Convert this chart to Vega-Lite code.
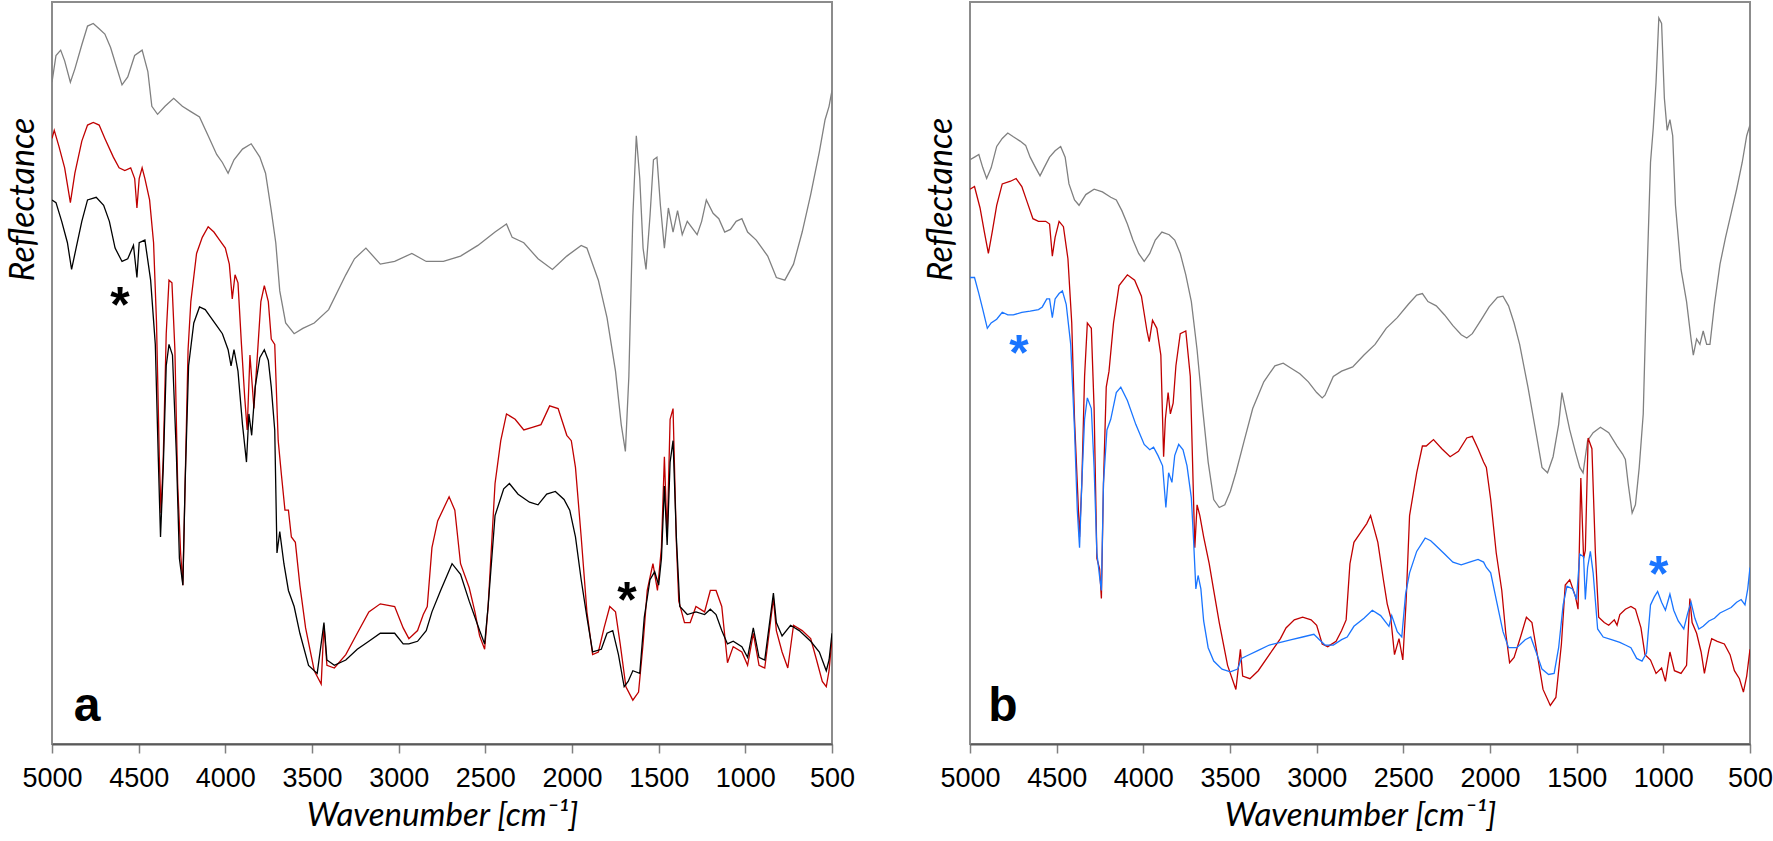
{
"$schema": "https://vega.github.io/schema/vega-lite/v6.json",
"background": "white",
"padding": {"left": 5, "top": 1, "right": 0, "bottom": 0},
"config": {"view": {"stroke": "#8c8c8c", "strokeWidth": 2}},
"bounds": "flush",
"spacing": 138,
"datasets": {
"panelA": [
{"trace":"grey","wn":5000,"refl":123.7},{"trace":"grey","wn":4977,"refl":128.7},{"trace":"grey","wn":4950,"refl":129.7},{"trace":"grey","wn":4927,"refl":127.7},{"trace":"grey","wn":4894,"refl":123.7},{"trace":"grey","wn":4868,"refl":126.2},{"trace":"grey","wn":4828,"refl":130.7},{"trace":"grey","wn":4795,"refl":134.2},{"trace":"grey","wn":4762,"refl":134.7},{"trace":"grey","wn":4728,"refl":133.7},{"trace":"grey","wn":4695,"refl":132.7},{"trace":"grey","wn":4662,"refl":130.2},{"trace":"grey","wn":4629,"refl":126.7},{"trace":"grey","wn":4596,"refl":123.2},{"trace":"grey","wn":4563,"refl":124.7},{"trace":"grey","wn":4523,"refl":128.7},{"trace":"grey","wn":4480,"refl":129.7},{"trace":"grey","wn":4447,"refl":125.7},{"trace":"grey","wn":4424,"refl":119.2},{"trace":"grey","wn":4391,"refl":117.7},{"trace":"grey","wn":4348,"refl":119.2},{"trace":"grey","wn":4298,"refl":120.7},{"trace":"grey","wn":4248,"refl":119.2},{"trace":"grey","wn":4199,"refl":118.2},{"trace":"grey","wn":4149,"refl":117.2},{"trace":"grey","wn":4099,"refl":113.7},{"trace":"grey","wn":4050,"refl":110.2},{"trace":"grey","wn":4017,"refl":108.7},{"trace":"grey","wn":3984,"refl":106.7},{"trace":"grey","wn":3950,"refl":109.2},{"trace":"grey","wn":3901,"refl":111.2},{"trace":"grey","wn":3851,"refl":112.2},{"trace":"grey","wn":3801,"refl":109.7},{"trace":"grey","wn":3768,"refl":106.7},{"trace":"grey","wn":3735,"refl":99.7},{"trace":"grey","wn":3709,"refl":93.7},{"trace":"grey","wn":3686,"refl":84.7},{"trace":"grey","wn":3652,"refl":78.7},{"trace":"grey","wn":3603,"refl":76.7},{"trace":"grey","wn":3553,"refl":77.7},{"trace":"grey","wn":3487,"refl":78.7},{"trace":"grey","wn":3404,"refl":81.2},{"trace":"grey","wn":3305,"refl":87.7},{"trace":"grey","wn":3255,"refl":90.7},{"trace":"grey","wn":3189,"refl":92.7},{"trace":"grey","wn":3106,"refl":89.7},{"trace":"grey","wn":3023,"refl":90.2},{"trace":"grey","wn":2924,"refl":91.7},{"trace":"grey","wn":2841,"refl":90.2},{"trace":"grey","wn":2742,"refl":90.2},{"trace":"grey","wn":2643,"refl":91.2},{"trace":"grey","wn":2543,"refl":93.2},{"trace":"grey","wn":2444,"refl":95.7},{"trace":"grey","wn":2378,"refl":97.2},{"trace":"grey","wn":2345,"refl":94.7},{"trace":"grey","wn":2278,"refl":93.7},{"trace":"grey","wn":2196,"refl":90.7},{"trace":"grey","wn":2113,"refl":88.7},{"trace":"grey","wn":2030,"refl":91.2},{"trace":"grey","wn":1947,"refl":93.2},{"trace":"grey","wn":1914,"refl":92.7},{"trace":"grey","wn":1848,"refl":86.7},{"trace":"grey","wn":1798,"refl":79.7},{"trace":"grey","wn":1749,"refl":69.7},{"trace":"grey","wn":1716,"refl":59.7},{"trace":"grey","wn":1692,"refl":54.7},{"trace":"grey","wn":1672,"refl":68.7},{"trace":"grey","wn":1649,"refl":98.7},{"trace":"grey","wn":1629,"refl":113.7},{"trace":"grey","wn":1609,"refl":105.7},{"trace":"grey","wn":1590,"refl":92.7},{"trace":"grey","wn":1573,"refl":88.7},{"trace":"grey","wn":1550,"refl":98.7},{"trace":"grey","wn":1530,"refl":109.2},{"trace":"grey","wn":1510,"refl":109.7},{"trace":"grey","wn":1490,"refl":100.7},{"trace":"grey","wn":1467,"refl":92.7},{"trace":"grey","wn":1444,"refl":100.2},{"trace":"grey","wn":1417,"refl":95.7},{"trace":"grey","wn":1391,"refl":99.7},{"trace":"grey","wn":1364,"refl":95.2},{"trace":"grey","wn":1335,"refl":97.7},{"trace":"grey","wn":1278,"refl":95.2},{"trace":"grey","wn":1252,"refl":97.7},{"trace":"grey","wn":1225,"refl":101.7},{"trace":"grey","wn":1186,"refl":99.2},{"trace":"grey","wn":1153,"refl":98.2},{"trace":"grey","wn":1119,"refl":95.7},{"trace":"grey","wn":1086,"refl":96.2},{"trace":"grey","wn":1053,"refl":97.7},{"trace":"grey","wn":1020,"refl":98.2},{"trace":"grey","wn":987,"refl":95.7},{"trace":"grey","wn":937,"refl":94.2},{"trace":"grey","wn":871,"refl":91.2},{"trace":"grey","wn":821,"refl":87.2},{"trace":"grey","wn":772,"refl":86.7},{"trace":"grey","wn":722,"refl":89.7},{"trace":"grey","wn":672,"refl":95.7},{"trace":"grey","wn":623,"refl":102.7},{"trace":"grey","wn":573,"refl":110.7},{"trace":"grey","wn":540,"refl":116.7},{"trace":"grey","wn":517,"refl":119.2},{"trace":"grey","wn":500,"refl":122.2},
{"trace":"red","wn":5000,"refl":113.2},{"trace":"red","wn":4987,"refl":114.7},{"trace":"red","wn":4960,"refl":111.7},{"trace":"red","wn":4927,"refl":107.7},{"trace":"red","wn":4894,"refl":101.2},{"trace":"red","wn":4868,"refl":106.7},{"trace":"red","wn":4828,"refl":112.7},{"trace":"red","wn":4795,"refl":115.7},{"trace":"red","wn":4762,"refl":116.2},{"trace":"red","wn":4728,"refl":115.7},{"trace":"red","wn":4695,"refl":113.2},{"trace":"red","wn":4646,"refl":109.7},{"trace":"red","wn":4613,"refl":107.7},{"trace":"red","wn":4580,"refl":107.2},{"trace":"red","wn":4546,"refl":107.7},{"trace":"red","wn":4523,"refl":105.7},{"trace":"red","wn":4510,"refl":100.2},{"trace":"red","wn":4497,"refl":105.7},{"trace":"red","wn":4480,"refl":107.7},{"trace":"red","wn":4464,"refl":105.7},{"trace":"red","wn":4437,"refl":101.7},{"trace":"red","wn":4414,"refl":93.7},{"trace":"red","wn":4397,"refl":78.7},{"trace":"red","wn":4381,"refl":53.7},{"trace":"red","wn":4371,"refl":43.2},{"trace":"red","wn":4358,"refl":53.7},{"trace":"red","wn":4341,"refl":76.7},{"trace":"red","wn":4325,"refl":86.7},{"trace":"red","wn":4308,"refl":86.2},{"trace":"red","wn":4291,"refl":73.7},{"trace":"red","wn":4275,"refl":48.7},{"trace":"red","wn":4258,"refl":35.7},{"trace":"red","wn":4245,"refl":29.7},{"trace":"red","wn":4232,"refl":48.7},{"trace":"red","wn":4215,"refl":73.7},{"trace":"red","wn":4199,"refl":82.7},{"trace":"red","wn":4166,"refl":91.7},{"trace":"red","wn":4133,"refl":94.7},{"trace":"red","wn":4099,"refl":96.7},{"trace":"red","wn":4066,"refl":95.7},{"trace":"red","wn":4033,"refl":94.2},{"trace":"red","wn":4000,"refl":92.7},{"trace":"red","wn":3977,"refl":89.7},{"trace":"red","wn":3960,"refl":83.2},{"trace":"red","wn":3944,"refl":87.7},{"trace":"red","wn":3927,"refl":86.2},{"trace":"red","wn":3907,"refl":74.7},{"trace":"red","wn":3888,"refl":64.7},{"trace":"red","wn":3874,"refl":58.7},{"trace":"red","wn":3858,"refl":72.7},{"trace":"red","wn":3844,"refl":66.7},{"trace":"red","wn":3835,"refl":62.7},{"trace":"red","wn":3811,"refl":74.7},{"trace":"red","wn":3795,"refl":82.7},{"trace":"red","wn":3775,"refl":85.7},{"trace":"red","wn":3752,"refl":82.7},{"trace":"red","wn":3735,"refl":75.7},{"trace":"red","wn":3715,"refl":74.7},{"trace":"red","wn":3695,"refl":56.7},{"trace":"red","wn":3676,"refl":50.2},{"trace":"red","wn":3656,"refl":43.7},{"trace":"red","wn":3636,"refl":43.7},{"trace":"red","wn":3619,"refl":38.7},{"trace":"red","wn":3596,"refl":37.7},{"trace":"red","wn":3570,"refl":29.7},{"trace":"red","wn":3537,"refl":21.7},{"trace":"red","wn":3487,"refl":13.7},{"trace":"red","wn":3447,"refl":11.2},{"trace":"red","wn":3431,"refl":22.2},{"trace":"red","wn":3414,"refl":14.7},{"trace":"red","wn":3371,"refl":14.2},{"trace":"red","wn":3305,"refl":16.7},{"trace":"red","wn":3239,"refl":20.7},{"trace":"red","wn":3172,"refl":24.7},{"trace":"red","wn":3106,"refl":26.2},{"trace":"red","wn":3023,"refl":25.7},{"trace":"red","wn":2974,"refl":21.7},{"trace":"red","wn":2941,"refl":19.7},{"trace":"red","wn":2891,"refl":21.2},{"trace":"red","wn":2858,"refl":24.2},{"trace":"red","wn":2835,"refl":25.7},{"trace":"red","wn":2808,"refl":36.7},{"trace":"red","wn":2775,"refl":41.7},{"trace":"red","wn":2709,"refl":46.2},{"trace":"red","wn":2676,"refl":43.7},{"trace":"red","wn":2643,"refl":33.7},{"trace":"red","wn":2593,"refl":29.2},{"trace":"red","wn":2560,"refl":24.7},{"trace":"red","wn":2533,"refl":20.2},{"trace":"red","wn":2504,"refl":17.7},{"trace":"red","wn":2484,"refl":25.7},{"trace":"red","wn":2444,"refl":48.7},{"trace":"red","wn":2411,"refl":56.7},{"trace":"red","wn":2378,"refl":61.7},{"trace":"red","wn":2328,"refl":60.7},{"trace":"red","wn":2278,"refl":58.7},{"trace":"red","wn":2229,"refl":59.2},{"trace":"red","wn":2179,"refl":59.7},{"trace":"red","wn":2129,"refl":63.2},{"trace":"red","wn":2080,"refl":62.7},{"trace":"red","wn":2030,"refl":57.7},{"trace":"red","wn":2004,"refl":56.7},{"trace":"red","wn":1980,"refl":51.7},{"trace":"red","wn":1947,"refl":38.7},{"trace":"red","wn":1914,"refl":24.7},{"trace":"red","wn":1881,"refl":16.7},{"trace":"red","wn":1848,"refl":17.2},{"trace":"red","wn":1815,"refl":21.7},{"trace":"red","wn":1782,"refl":25.7},{"trace":"red","wn":1749,"refl":24.7},{"trace":"red","wn":1722,"refl":18.7},{"trace":"red","wn":1689,"refl":10.7},{"trace":"red","wn":1649,"refl":8.2},{"trace":"red","wn":1616,"refl":9.7},{"trace":"red","wn":1590,"refl":18.7},{"trace":"red","wn":1566,"refl":28.7},{"trace":"red","wn":1533,"refl":33.7},{"trace":"red","wn":1507,"refl":28.7},{"trace":"red","wn":1484,"refl":36.7},{"trace":"red","wn":1467,"refl":53.7},{"trace":"red","wn":1451,"refl":38.7},{"trace":"red","wn":1434,"refl":60.7},{"trace":"red","wn":1417,"refl":62.7},{"trace":"red","wn":1398,"refl":37.7},{"trace":"red","wn":1384,"refl":26.7},{"trace":"red","wn":1351,"refl":22.7},{"trace":"red","wn":1318,"refl":22.7},{"trace":"red","wn":1285,"refl":25.7},{"trace":"red","wn":1235,"refl":24.7},{"trace":"red","wn":1202,"refl":28.7},{"trace":"red","wn":1169,"refl":28.7},{"trace":"red","wn":1136,"refl":25.7},{"trace":"red","wn":1103,"refl":15.2},{"trace":"red","wn":1070,"refl":18.2},{"trace":"red","wn":1020,"refl":17.2},{"trace":"red","wn":987,"refl":14.7},{"trace":"red","wn":954,"refl":20.7},{"trace":"red","wn":921,"refl":14.7},{"trace":"red","wn":888,"refl":14.2},{"trace":"red","wn":838,"refl":27.2},{"trace":"red","wn":821,"refl":21.2},{"trace":"red","wn":788,"refl":17.2},{"trace":"red","wn":755,"refl":14.2},{"trace":"red","wn":722,"refl":22.2},{"trace":"red","wn":672,"refl":21.2},{"trace":"red","wn":623,"refl":19.7},{"trace":"red","wn":589,"refl":15.7},{"trace":"red","wn":556,"refl":11.7},{"trace":"red","wn":533,"refl":10.7},{"trace":"red","wn":517,"refl":13.7},{"trace":"red","wn":500,"refl":19.7},
{"trace":"black","wn":5000,"refl":101.7},{"trace":"black","wn":4977,"refl":101.2},{"trace":"black","wn":4944,"refl":97.7},{"trace":"black","wn":4911,"refl":93.7},{"trace":"black","wn":4887,"refl":88.7},{"trace":"black","wn":4861,"refl":92.7},{"trace":"black","wn":4828,"refl":97.7},{"trace":"black","wn":4795,"refl":101.7},{"trace":"black","wn":4745,"refl":102.2},{"trace":"black","wn":4702,"refl":100.7},{"trace":"black","wn":4669,"refl":97.7},{"trace":"black","wn":4636,"refl":92.7},{"trace":"black","wn":4596,"refl":90.2},{"trace":"black","wn":4563,"refl":90.7},{"trace":"black","wn":4530,"refl":93.2},{"trace":"black","wn":4510,"refl":87.2},{"trace":"black","wn":4497,"refl":93.7},{"trace":"black","wn":4464,"refl":94.2},{"trace":"black","wn":4431,"refl":86.7},{"trace":"black","wn":4404,"refl":74.7},{"trace":"black","wn":4387,"refl":53.7},{"trace":"black","wn":4374,"refl":38.7},{"trace":"black","wn":4358,"refl":51.7},{"trace":"black","wn":4341,"refl":70.7},{"trace":"black","wn":4325,"refl":74.7},{"trace":"black","wn":4305,"refl":72.7},{"trace":"black","wn":4282,"refl":53.7},{"trace":"black","wn":4265,"refl":34.7},{"trace":"black","wn":4245,"refl":29.7},{"trace":"black","wn":4232,"refl":48.7},{"trace":"black","wn":4212,"refl":70.7},{"trace":"black","wn":4182,"refl":78.7},{"trace":"black","wn":4149,"refl":81.7},{"trace":"black","wn":4116,"refl":81.2},{"trace":"black","wn":4083,"refl":79.7},{"trace":"black","wn":4050,"refl":78.2},{"trace":"black","wn":4017,"refl":76.7},{"trace":"black","wn":3984,"refl":73.7},{"trace":"black","wn":3967,"refl":70.7},{"trace":"black","wn":3950,"refl":73.7},{"trace":"black","wn":3927,"refl":69.7},{"trace":"black","wn":3901,"refl":59.7},{"trace":"black","wn":3878,"refl":52.7},{"trace":"black","wn":3864,"refl":61.7},{"trace":"black","wn":3848,"refl":57.7},{"trace":"black","wn":3828,"refl":66.7},{"trace":"black","wn":3801,"refl":72.2},{"trace":"black","wn":3775,"refl":73.7},{"trace":"black","wn":3752,"refl":71.7},{"trace":"black","wn":3735,"refl":66.7},{"trace":"black","wn":3715,"refl":58.7},{"trace":"black","wn":3702,"refl":35.7},{"trace":"black","wn":3686,"refl":39.7},{"trace":"black","wn":3662,"refl":33.7},{"trace":"black","wn":3636,"refl":28.7},{"trace":"black","wn":3603,"refl":25.7},{"trace":"black","wn":3570,"refl":20.7},{"trace":"black","wn":3520,"refl":14.7},{"trace":"black","wn":3470,"refl":13.2},{"trace":"black","wn":3431,"refl":22.7},{"trace":"black","wn":3414,"refl":15.7},{"trace":"black","wn":3371,"refl":14.7},{"trace":"black","wn":3305,"refl":15.7},{"trace":"black","wn":3239,"refl":17.7},{"trace":"black","wn":3172,"refl":19.2},{"trace":"black","wn":3106,"refl":20.7},{"trace":"black","wn":3023,"refl":20.7},{"trace":"black","wn":2974,"refl":18.7},{"trace":"black","wn":2941,"refl":18.7},{"trace":"black","wn":2891,"refl":19.2},{"trace":"black","wn":2841,"refl":21.2},{"trace":"black","wn":2808,"refl":24.7},{"trace":"black","wn":2758,"refl":28.7},{"trace":"black","wn":2692,"refl":33.7},{"trace":"black","wn":2643,"refl":31.7},{"trace":"black","wn":2593,"refl":26.7},{"trace":"black","wn":2560,"refl":23.7},{"trace":"black","wn":2533,"refl":21.2},{"trace":"black","wn":2504,"refl":18.7},{"trace":"black","wn":2484,"refl":25.7},{"trace":"black","wn":2444,"refl":42.7},{"trace":"black","wn":2394,"refl":47.7},{"trace":"black","wn":2361,"refl":48.7},{"trace":"black","wn":2311,"refl":46.7},{"trace":"black","wn":2245,"refl":45.2},{"trace":"black","wn":2196,"refl":44.7},{"trace":"black","wn":2146,"refl":46.7},{"trace":"black","wn":2096,"refl":47.2},{"trace":"black","wn":2046,"refl":45.7},{"trace":"black","wn":2013,"refl":43.7},{"trace":"black","wn":1980,"refl":38.7},{"trace":"black","wn":1947,"refl":30.7},{"trace":"black","wn":1914,"refl":23.7},{"trace":"black","wn":1881,"refl":17.2},{"trace":"black","wn":1831,"refl":17.7},{"trace":"black","wn":1798,"refl":20.7},{"trace":"black","wn":1765,"refl":21.2},{"trace":"black","wn":1732,"refl":16.7},{"trace":"black","wn":1699,"refl":10.7},{"trace":"black","wn":1676,"refl":11.7},{"trace":"black","wn":1649,"refl":13.7},{"trace":"black","wn":1609,"refl":13.2},{"trace":"black","wn":1583,"refl":23.7},{"trace":"black","wn":1550,"refl":30.7},{"trace":"black","wn":1523,"refl":32.2},{"trace":"black","wn":1500,"refl":29.7},{"trace":"black","wn":1484,"refl":34.7},{"trace":"black","wn":1467,"refl":48.2},{"trace":"black","wn":1451,"refl":37.2},{"trace":"black","wn":1434,"refl":52.7},{"trace":"black","wn":1417,"refl":56.7},{"trace":"black","wn":1398,"refl":38.7},{"trace":"black","wn":1378,"refl":25.7},{"trace":"black","wn":1335,"refl":24.2},{"trace":"black","wn":1285,"refl":24.7},{"trace":"black","wn":1235,"refl":24.2},{"trace":"black","wn":1202,"refl":25.2},{"trace":"black","wn":1169,"refl":24.2},{"trace":"black","wn":1136,"refl":21.2},{"trace":"black","wn":1103,"refl":18.7},{"trace":"black","wn":1070,"refl":19.2},{"trace":"black","wn":1020,"refl":18.2},{"trace":"black","wn":987,"refl":16.2},{"trace":"black","wn":954,"refl":21.7},{"trace":"black","wn":921,"refl":16.2},{"trace":"black","wn":888,"refl":15.7},{"trace":"black","wn":838,"refl":28.2},{"trace":"black","wn":821,"refl":22.7},{"trace":"black","wn":788,"refl":20.2},{"trace":"black","wn":739,"refl":22.2},{"trace":"black","wn":689,"refl":21.2},{"trace":"black","wn":623,"refl":19.2},{"trace":"black","wn":573,"refl":17.2},{"trace":"black","wn":533,"refl":13.7},{"trace":"black","wn":517,"refl":15.7},{"trace":"black","wn":500,"refl":20.7}
],
"panelB": [
{"trace":"grey","wn":5000,"refl":109.2},{"trace":"grey","wn":4974,"refl":109.7},{"trace":"grey","wn":4949,"refl":110.2},{"trace":"grey","wn":4926,"refl":107.7},{"trace":"grey","wn":4904,"refl":105.7},{"trace":"grey","wn":4878,"refl":107.7},{"trace":"grey","wn":4846,"refl":111.7},{"trace":"grey","wn":4814,"refl":113.2},{"trace":"grey","wn":4782,"refl":114.2},{"trace":"grey","wn":4750,"refl":113.5},{"trace":"grey","wn":4711,"refl":112.7},{"trace":"grey","wn":4679,"refl":111.9},{"trace":"grey","wn":4653,"refl":109.7},{"trace":"grey","wn":4621,"refl":107.7},{"trace":"grey","wn":4596,"refl":106.2},{"trace":"grey","wn":4573,"refl":107.7},{"trace":"grey","wn":4541,"refl":109.7},{"trace":"grey","wn":4509,"refl":110.9},{"trace":"grey","wn":4477,"refl":111.7},{"trace":"grey","wn":4451,"refl":109.7},{"trace":"grey","wn":4429,"refl":104.7},{"trace":"grey","wn":4397,"refl":101.7},{"trace":"grey","wn":4371,"refl":100.7},{"trace":"grey","wn":4332,"refl":102.7},{"trace":"grey","wn":4284,"refl":103.7},{"trace":"grey","wn":4236,"refl":103.2},{"trace":"grey","wn":4188,"refl":102.2},{"trace":"grey","wn":4156,"refl":101.7},{"trace":"grey","wn":4124,"refl":99.7},{"trace":"grey","wn":4092,"refl":97.2},{"trace":"grey","wn":4060,"refl":94.2},{"trace":"grey","wn":4027,"refl":91.7},{"trace":"grey","wn":3995,"refl":90.2},{"trace":"grey","wn":3963,"refl":91.7},{"trace":"grey","wn":3931,"refl":94.2},{"trace":"grey","wn":3893,"refl":95.7},{"trace":"grey","wn":3851,"refl":95.2},{"trace":"grey","wn":3819,"refl":94.2},{"trace":"grey","wn":3787,"refl":91.7},{"trace":"grey","wn":3755,"refl":87.7},{"trace":"grey","wn":3723,"refl":82.7},{"trace":"grey","wn":3690,"refl":73.7},{"trace":"grey","wn":3658,"refl":62.7},{"trace":"grey","wn":3626,"refl":52.7},{"trace":"grey","wn":3594,"refl":45.7},{"trace":"grey","wn":3562,"refl":44.2},{"trace":"grey","wn":3530,"refl":44.7},{"trace":"grey","wn":3498,"refl":47.2},{"trace":"grey","wn":3466,"refl":50.7},{"trace":"grey","wn":3418,"refl":56.7},{"trace":"grey","wn":3369,"refl":62.7},{"trace":"grey","wn":3305,"refl":67.7},{"trace":"grey","wn":3241,"refl":70.7},{"trace":"grey","wn":3193,"refl":71.2},{"trace":"grey","wn":3145,"refl":70.2},{"trace":"grey","wn":3097,"refl":69.2},{"trace":"grey","wn":3048,"refl":67.7},{"trace":"grey","wn":3000,"refl":65.7},{"trace":"grey","wn":2968,"refl":64.7},{"trace":"grey","wn":2952,"refl":65.2},{"trace":"grey","wn":2904,"refl":68.7},{"trace":"grey","wn":2856,"refl":69.7},{"trace":"grey","wn":2792,"refl":70.5},{"trace":"grey","wn":2727,"refl":72.7},{"trace":"grey","wn":2663,"refl":74.7},{"trace":"grey","wn":2599,"refl":77.7},{"trace":"grey","wn":2535,"refl":79.7},{"trace":"grey","wn":2471,"refl":82.2},{"trace":"grey","wn":2423,"refl":83.9},{"trace":"grey","wn":2390,"refl":84.2},{"trace":"grey","wn":2358,"refl":82.7},{"trace":"grey","wn":2310,"refl":81.9},{"trace":"grey","wn":2262,"refl":80.2},{"trace":"grey","wn":2214,"refl":78.2},{"trace":"grey","wn":2166,"refl":76.5},{"trace":"grey","wn":2134,"refl":75.9},{"trace":"grey","wn":2102,"refl":76.7},{"trace":"grey","wn":2053,"refl":79.2},{"trace":"grey","wn":2005,"refl":81.7},{"trace":"grey","wn":1957,"refl":83.5},{"trace":"grey","wn":1925,"refl":83.7},{"trace":"grey","wn":1893,"refl":81.9},{"trace":"grey","wn":1861,"refl":78.7},{"trace":"grey","wn":1829,"refl":74.7},{"trace":"grey","wn":1781,"refl":66.7},{"trace":"grey","wn":1732,"refl":57.7},{"trace":"grey","wn":1700,"refl":51.7},{"trace":"grey","wn":1668,"refl":50.7},{"trace":"grey","wn":1636,"refl":53.7},{"trace":"grey","wn":1604,"refl":59.7},{"trace":"grey","wn":1585,"refl":65.7},{"trace":"grey","wn":1566,"refl":62.7},{"trace":"grey","wn":1540,"refl":58.7},{"trace":"grey","wn":1508,"refl":54.7},{"trace":"grey","wn":1482,"refl":51.7},{"trace":"grey","wn":1463,"refl":50.7},{"trace":"grey","wn":1437,"refl":56.7},{"trace":"grey","wn":1405,"refl":58.2},{"trace":"grey","wn":1363,"refl":59.2},{"trace":"grey","wn":1315,"refl":58.2},{"trace":"grey","wn":1267,"refl":55.7},{"trace":"grey","wn":1235,"refl":54.2},{"trace":"grey","wn":1219,"refl":53.2},{"trace":"grey","wn":1203,"refl":48.7},{"trace":"grey","wn":1180,"refl":43.2},{"trace":"grey","wn":1161,"refl":44.7},{"trace":"grey","wn":1139,"refl":51.7},{"trace":"grey","wn":1116,"refl":61.7},{"trace":"grey","wn":1097,"refl":84.7},{"trace":"grey","wn":1074,"refl":108.7},{"trace":"grey","wn":1058,"refl":115.2},{"trace":"grey","wn":1042,"refl":123.7},{"trace":"grey","wn":1026,"refl":135.7},{"trace":"grey","wn":1010,"refl":134.7},{"trace":"grey","wn":994,"refl":120.7},{"trace":"grey","wn":978,"refl":114.7},{"trace":"grey","wn":962,"refl":116.7},{"trace":"grey","wn":946,"refl":113.7},{"trace":"grey","wn":930,"refl":100.7},{"trace":"grey","wn":898,"refl":88.7},{"trace":"grey","wn":866,"refl":82.7},{"trace":"grey","wn":840,"refl":75.7},{"trace":"grey","wn":827,"refl":72.7},{"trace":"grey","wn":808,"refl":75.7},{"trace":"grey","wn":789,"refl":74.7},{"trace":"grey","wn":770,"refl":77.2},{"trace":"grey","wn":750,"refl":74.7},{"trace":"grey","wn":731,"refl":74.7},{"trace":"grey","wn":705,"refl":82.2},{"trace":"grey","wn":673,"refl":89.7},{"trace":"grey","wn":641,"refl":94.7},{"trace":"grey","wn":609,"refl":99.2},{"trace":"grey","wn":577,"refl":103.7},{"trace":"grey","wn":545,"refl":108.7},{"trace":"grey","wn":519,"refl":113.7},{"trace":"grey","wn":500,"refl":115.7},
{"trace":"red","wn":5000,"refl":103.7},{"trace":"red","wn":4974,"refl":104.2},{"trace":"red","wn":4942,"refl":100.2},{"trace":"red","wn":4917,"refl":95.7},{"trace":"red","wn":4894,"refl":91.7},{"trace":"red","wn":4872,"refl":95.7},{"trace":"red","wn":4846,"refl":100.7},{"trace":"red","wn":4814,"refl":104.7},{"trace":"red","wn":4766,"refl":105.2},{"trace":"red","wn":4734,"refl":105.7},{"trace":"red","wn":4701,"refl":104.2},{"trace":"red","wn":4669,"refl":101.2},{"trace":"red","wn":4637,"refl":98.2},{"trace":"red","wn":4605,"refl":97.7},{"trace":"red","wn":4563,"refl":97.7},{"trace":"red","wn":4541,"refl":97.2},{"trace":"red","wn":4525,"refl":91.2},{"trace":"red","wn":4509,"refl":94.7},{"trace":"red","wn":4486,"refl":97.7},{"trace":"red","wn":4461,"refl":96.7},{"trace":"red","wn":4435,"refl":90.7},{"trace":"red","wn":4413,"refl":78.7},{"trace":"red","wn":4397,"refl":60.7},{"trace":"red","wn":4381,"refl":48.7},{"trace":"red","wn":4368,"refl":38.7},{"trace":"red","wn":4355,"refl":48.7},{"trace":"red","wn":4339,"refl":68.7},{"trace":"red","wn":4323,"refl":78.7},{"trace":"red","wn":4300,"refl":77.7},{"trace":"red","wn":4284,"refl":62.7},{"trace":"red","wn":4268,"refl":34.7},{"trace":"red","wn":4252,"refl":32.7},{"trace":"red","wn":4242,"refl":27.2},{"trace":"red","wn":4230,"refl":48.7},{"trace":"red","wn":4214,"refl":66.7},{"trace":"red","wn":4198,"refl":69.7},{"trace":"red","wn":4172,"refl":78.7},{"trace":"red","wn":4140,"refl":85.7},{"trace":"red","wn":4092,"refl":87.7},{"trace":"red","wn":4050,"refl":86.7},{"trace":"red","wn":4011,"refl":83.7},{"trace":"red","wn":3979,"refl":77.2},{"trace":"red","wn":3966,"refl":75.2},{"trace":"red","wn":3947,"refl":79.2},{"trace":"red","wn":3922,"refl":77.7},{"trace":"red","wn":3899,"refl":72.7},{"trace":"red","wn":3883,"refl":53.7},{"trace":"red","wn":3873,"refl":60.7},{"trace":"red","wn":3857,"refl":65.7},{"trace":"red","wn":3844,"refl":61.7},{"trace":"red","wn":3828,"refl":63.7},{"trace":"red","wn":3812,"refl":70.7},{"trace":"red","wn":3787,"refl":76.7},{"trace":"red","wn":3755,"refl":77.2},{"trace":"red","wn":3729,"refl":68.7},{"trace":"red","wn":3716,"refl":52.7},{"trace":"red","wn":3703,"refl":36.7},{"trace":"red","wn":3690,"refl":44.7},{"trace":"red","wn":3674,"refl":42.7},{"trace":"red","wn":3652,"refl":38.7},{"trace":"red","wn":3620,"refl":33.7},{"trace":"red","wn":3594,"refl":28.7},{"trace":"red","wn":3562,"refl":22.7},{"trace":"red","wn":3514,"refl":14.7},{"trace":"red","wn":3466,"refl":10.2},{"trace":"red","wn":3440,"refl":17.7},{"trace":"red","wn":3427,"refl":12.7},{"trace":"red","wn":3385,"refl":12.2},{"trace":"red","wn":3337,"refl":13.7},{"trace":"red","wn":3273,"refl":16.7},{"trace":"red","wn":3209,"refl":19.7},{"trace":"red","wn":3177,"refl":21.7},{"trace":"red","wn":3129,"refl":23.2},{"trace":"red","wn":3081,"refl":23.7},{"trace":"red","wn":3032,"refl":23.2},{"trace":"red","wn":3000,"refl":22.2},{"trace":"red","wn":2968,"refl":18.7},{"trace":"red","wn":2936,"refl":18.2},{"trace":"red","wn":2888,"refl":19.2},{"trace":"red","wn":2856,"refl":21.2},{"trace":"red","wn":2830,"refl":23.2},{"trace":"red","wn":2808,"refl":33.7},{"trace":"red","wn":2785,"refl":37.7},{"trace":"red","wn":2743,"refl":39.7},{"trace":"red","wn":2711,"refl":41.2},{"trace":"red","wn":2689,"refl":42.7},{"trace":"red","wn":2647,"refl":37.7},{"trace":"red","wn":2615,"refl":30.7},{"trace":"red","wn":2593,"refl":26.2},{"trace":"red","wn":2573,"refl":23.7},{"trace":"red","wn":2551,"refl":16.7},{"trace":"red","wn":2525,"refl":19.7},{"trace":"red","wn":2503,"refl":15.7},{"trace":"red","wn":2484,"refl":26.7},{"trace":"red","wn":2464,"refl":42.7},{"trace":"red","wn":2423,"refl":50.7},{"trace":"red","wn":2390,"refl":55.7},{"trace":"red","wn":2368,"refl":55.7},{"trace":"red","wn":2326,"refl":56.9},{"trace":"red","wn":2278,"refl":55.2},{"trace":"red","wn":2230,"refl":53.7},{"trace":"red","wn":2182,"refl":54.7},{"trace":"red","wn":2134,"refl":57.2},{"trace":"red","wn":2102,"refl":57.5},{"trace":"red","wn":2069,"refl":55.2},{"trace":"red","wn":2037,"refl":52.7},{"trace":"red","wn":2021,"refl":51.7},{"trace":"red","wn":1996,"refl":45.7},{"trace":"red","wn":1964,"refl":35.7},{"trace":"red","wn":1932,"refl":28.7},{"trace":"red","wn":1909,"refl":20.7},{"trace":"red","wn":1887,"refl":15.2},{"trace":"red","wn":1861,"refl":16.2},{"trace":"red","wn":1822,"refl":20.2},{"trace":"red","wn":1790,"refl":23.7},{"trace":"red","wn":1758,"refl":22.7},{"trace":"red","wn":1732,"refl":17.7},{"trace":"red","wn":1694,"refl":10.2},{"trace":"red","wn":1652,"refl":7.2},{"trace":"red","wn":1620,"refl":8.7},{"trace":"red","wn":1588,"refl":18.7},{"trace":"red","wn":1566,"refl":29.7},{"trace":"red","wn":1540,"refl":30.7},{"trace":"red","wn":1508,"refl":27.7},{"trace":"red","wn":1492,"refl":25.2},{"trace":"red","wn":1476,"refl":49.7},{"trace":"red","wn":1460,"refl":34.7},{"trace":"red","wn":1450,"refl":36.2},{"trace":"red","wn":1434,"refl":57.2},{"trace":"red","wn":1412,"refl":55.2},{"trace":"red","wn":1392,"refl":35.7},{"trace":"red","wn":1373,"refl":23.7},{"trace":"red","wn":1341,"refl":22.7},{"trace":"red","wn":1315,"refl":22.2},{"trace":"red","wn":1283,"refl":23.2},{"trace":"red","wn":1267,"refl":22.2},{"trace":"red","wn":1251,"refl":24.2},{"trace":"red","wn":1219,"refl":25.2},{"trace":"red","wn":1187,"refl":25.7},{"trace":"red","wn":1161,"refl":25.2},{"trace":"red","wn":1129,"refl":21.7},{"trace":"red","wn":1106,"refl":16.7},{"trace":"red","wn":1074,"refl":15.7},{"trace":"red","wn":1042,"refl":13.2},{"trace":"red","wn":1010,"refl":14.2},{"trace":"red","wn":988,"refl":11.7},{"trace":"red","wn":962,"refl":17.2},{"trace":"red","wn":936,"refl":13.7},{"trace":"red","wn":898,"refl":13.2},{"trace":"red","wn":866,"refl":14.7},{"trace":"red","wn":847,"refl":27.2},{"trace":"red","wn":834,"refl":22.7},{"trace":"red","wn":808,"refl":20.7},{"trace":"red","wn":782,"refl":17.2},{"trace":"red","wn":763,"refl":13.2},{"trace":"red","wn":737,"refl":17.7},{"trace":"red","wn":721,"refl":19.7},{"trace":"red","wn":689,"refl":19.2},{"trace":"red","wn":648,"refl":18.7},{"trace":"red","wn":615,"refl":16.7},{"trace":"red","wn":590,"refl":13.7},{"trace":"red","wn":561,"refl":12.2},{"trace":"red","wn":538,"refl":9.7},{"trace":"red","wn":519,"refl":12.7},{"trace":"red","wn":500,"refl":17.7},
{"trace":"blue","wn":5000,"refl":87.2},{"trace":"blue","wn":4974,"refl":87.2},{"trace":"blue","wn":4949,"refl":84.2},{"trace":"blue","wn":4926,"refl":81.2},{"trace":"blue","wn":4900,"refl":77.7},{"trace":"blue","wn":4878,"refl":78.7},{"trace":"blue","wn":4846,"refl":79.4},{"trace":"blue","wn":4814,"refl":80.7},{"trace":"blue","wn":4782,"refl":80.2},{"trace":"blue","wn":4750,"refl":80.2},{"trace":"blue","wn":4701,"refl":80.7},{"trace":"blue","wn":4653,"refl":80.9},{"trace":"blue","wn":4605,"refl":81.2},{"trace":"blue","wn":4583,"refl":81.7},{"trace":"blue","wn":4557,"refl":83.2},{"trace":"blue","wn":4541,"refl":83.2},{"trace":"blue","wn":4525,"refl":79.7},{"trace":"blue","wn":4509,"refl":83.2},{"trace":"blue","wn":4486,"refl":84.2},{"trace":"blue","wn":4467,"refl":84.7},{"trace":"blue","wn":4445,"refl":82.2},{"trace":"blue","wn":4419,"refl":74.7},{"trace":"blue","wn":4397,"refl":58.7},{"trace":"blue","wn":4381,"refl":43.7},{"trace":"blue","wn":4368,"refl":36.7},{"trace":"blue","wn":4355,"refl":48.7},{"trace":"blue","wn":4339,"refl":60.7},{"trace":"blue","wn":4323,"refl":64.7},{"trace":"blue","wn":4300,"refl":62.7},{"trace":"blue","wn":4284,"refl":51.7},{"trace":"blue","wn":4268,"refl":35.7},{"trace":"blue","wn":4252,"refl":31.2},{"trace":"blue","wn":4242,"refl":28.7},{"trace":"blue","wn":4230,"refl":48.7},{"trace":"blue","wn":4210,"refl":58.7},{"trace":"blue","wn":4188,"refl":60.7},{"trace":"blue","wn":4156,"refl":65.7},{"trace":"blue","wn":4130,"refl":66.7},{"trace":"blue","wn":4092,"refl":64.2},{"trace":"blue","wn":4043,"refl":59.7},{"trace":"blue","wn":3995,"refl":56.0},{"trace":"blue","wn":3963,"refl":55.0},{"trace":"blue","wn":3941,"refl":55.5},{"trace":"blue","wn":3915,"refl":53.9},{"trace":"blue","wn":3889,"refl":52.0},{"trace":"blue","wn":3870,"refl":44.2},{"trace":"blue","wn":3854,"refl":50.7},{"trace":"blue","wn":3835,"refl":48.9},{"trace":"blue","wn":3819,"refl":53.9},{"trace":"blue","wn":3796,"refl":56.0},{"trace":"blue","wn":3771,"refl":55.0},{"trace":"blue","wn":3748,"refl":52.0},{"trace":"blue","wn":3723,"refl":46.0},{"trace":"blue","wn":3710,"refl":38.0},{"trace":"blue","wn":3697,"refl":29.0},{"trace":"blue","wn":3684,"refl":31.5},{"trace":"blue","wn":3668,"refl":29.0},{"trace":"blue","wn":3652,"refl":23.0},{"trace":"blue","wn":3626,"refl":18.0},{"trace":"blue","wn":3594,"refl":15.5},{"trace":"blue","wn":3546,"refl":14.0},{"trace":"blue","wn":3498,"refl":13.5},{"trace":"blue","wn":3456,"refl":14.0},{"trace":"blue","wn":3434,"refl":16.0},{"trace":"blue","wn":3402,"refl":16.5},{"trace":"blue","wn":3337,"refl":17.5},{"trace":"blue","wn":3273,"refl":18.5},{"trace":"blue","wn":3209,"refl":19.0},{"trace":"blue","wn":3145,"refl":19.5},{"trace":"blue","wn":3081,"refl":20.0},{"trace":"blue","wn":3016,"refl":20.5},{"trace":"blue","wn":2984,"refl":19.5},{"trace":"blue","wn":2952,"refl":18.5},{"trace":"blue","wn":2904,"refl":18.5},{"trace":"blue","wn":2856,"refl":19.5},{"trace":"blue","wn":2824,"refl":20.0},{"trace":"blue","wn":2785,"refl":22.0},{"trace":"blue","wn":2727,"refl":23.5},{"trace":"blue","wn":2679,"refl":25.0},{"trace":"blue","wn":2631,"refl":24.0},{"trace":"blue","wn":2583,"refl":22.0},{"trace":"blue","wn":2567,"refl":24.0},{"trace":"blue","wn":2535,"refl":21.0},{"trace":"blue","wn":2509,"refl":20.0},{"trace":"blue","wn":2487,"refl":28.0},{"trace":"blue","wn":2464,"refl":32.0},{"trace":"blue","wn":2423,"refl":36.0},{"trace":"blue","wn":2374,"refl":38.5},{"trace":"blue","wn":2342,"refl":38.0},{"trace":"blue","wn":2310,"refl":37.0},{"trace":"blue","wn":2262,"refl":35.5},{"trace":"blue","wn":2214,"refl":34.0},{"trace":"blue","wn":2166,"refl":33.5},{"trace":"blue","wn":2118,"refl":34.0},{"trace":"blue","wn":2069,"refl":34.5},{"trace":"blue","wn":2037,"refl":34.0},{"trace":"blue","wn":2021,"refl":33.0},{"trace":"blue","wn":1996,"refl":32.0},{"trace":"blue","wn":1964,"refl":27.0},{"trace":"blue","wn":1925,"refl":21.0},{"trace":"blue","wn":1893,"refl":18.0},{"trace":"blue","wn":1845,"refl":18.0},{"trace":"blue","wn":1797,"refl":19.5},{"trace":"blue","wn":1765,"refl":20.0},{"trace":"blue","wn":1732,"refl":17.0},{"trace":"blue","wn":1700,"refl":14.0},{"trace":"blue","wn":1662,"refl":13.0},{"trace":"blue","wn":1630,"refl":13.2},{"trace":"blue","wn":1604,"refl":18.0},{"trace":"blue","wn":1578,"refl":26.0},{"trace":"blue","wn":1556,"refl":29.5},{"trace":"blue","wn":1524,"refl":29.0},{"trace":"blue","wn":1501,"refl":27.0},{"trace":"blue","wn":1482,"refl":35.5},{"trace":"blue","wn":1460,"refl":35.0},{"trace":"blue","wn":1450,"refl":27.0},{"trace":"blue","wn":1437,"refl":33.0},{"trace":"blue","wn":1421,"refl":36.0},{"trace":"blue","wn":1405,"refl":32.0},{"trace":"blue","wn":1379,"refl":21.5},{"trace":"blue","wn":1347,"refl":20.0},{"trace":"blue","wn":1299,"refl":19.5},{"trace":"blue","wn":1251,"refl":19.0},{"trace":"blue","wn":1219,"refl":18.5},{"trace":"blue","wn":1187,"refl":18.0},{"trace":"blue","wn":1154,"refl":16.0},{"trace":"blue","wn":1123,"refl":15.5},{"trace":"blue","wn":1097,"refl":17.0},{"trace":"blue","wn":1074,"refl":26.0},{"trace":"blue","wn":1052,"refl":27.5},{"trace":"blue","wn":1033,"refl":28.5},{"trace":"blue","wn":1010,"refl":26.5},{"trace":"blue","wn":988,"refl":25.0},{"trace":"blue","wn":962,"refl":28.0},{"trace":"blue","wn":940,"refl":25.0},{"trace":"blue","wn":914,"refl":23.0},{"trace":"blue","wn":882,"refl":21.5},{"trace":"blue","wn":859,"refl":24.5},{"trace":"blue","wn":840,"refl":26.5},{"trace":"blue","wn":818,"refl":23.5},{"trace":"blue","wn":795,"refl":21.5},{"trace":"blue","wn":770,"refl":22.0},{"trace":"blue","wn":737,"refl":23.0},{"trace":"blue","wn":705,"refl":23.5},{"trace":"blue","wn":673,"refl":24.5},{"trace":"blue","wn":641,"refl":25.0},{"trace":"blue","wn":609,"refl":25.5},{"trace":"blue","wn":577,"refl":26.5},{"trace":"blue","wn":551,"refl":27.0},{"trace":"blue","wn":529,"refl":26.0},{"trace":"blue","wn":513,"refl":29.0},{"trace":"blue","wn":500,"refl":33.0}
],
"starsA": [{"trace":"black","wn":4608,"refl":84.2,"mark":"*"},{"trace":"black","wn":1683,"refl":28.9,"mark":"*"}],
"starsB": [{"trace":"blue","wn":4718,"refl":75.2,"mark":"*"},{"trace":"blue","wn":1026,"refl":33.9,"mark":"*"}],
"labelA": [{"wn":4798,"refl":4.3,"label":"a"}],
"labelB": [{"wn":4810,"refl":4.3,"label":"b"}]
},
"hconcat": [
{
"width": 780, "height": 742,
"data": {"name": "panelA"},
"layer": [
{"mark": {"type": "line", "strokeWidth": 1.3, "clip": true},
 "encoding": {
  "x": {"field": "wn", "type": "quantitative", "scale": {"domain": [500, 5000], "reverse": true, "nice": false, "zero": false},
   "axis": {"values": [5000,4500,4000,3500,3000,2500,2000,1500,1000,500], "format": "d", "title": "Wavenumber [cm⁻¹]", "grid": false, "labelFont": "Liberation Sans", "labelFontSize": 27, "labelColor": "#000", "labelPadding": 12, "labelFlush": false, "labelOverlap": false, "tickSize": 9, "tickColor": "#808080", "tickWidth": 1.5, "domainColor": "#595959", "domainWidth": 2, "titleFont": "Lato", "titleFontStyle": "italic", "titleFontWeight": "normal", "titleFontSize": 33, "titleColor": "#000", "titleY": 71, "titleBaseline": "middle"}},
  "y": {"field": "refl", "type": "quantitative", "scale": {"domain": [0, 138.7], "nice": false, "zero": false},
   "axis": {"title": "Reflectance", "labels": false, "ticks": false, "domain": false, "grid": false, "titleFont": "Lato", "titleFontStyle": "italic", "titleFontWeight": "normal", "titleFontSize": 34, "titleColor": "#000", "titleX": -29, "titleY": 197, "titleAlign": "center", "titleBaseline": "middle", "titleAngle": -90}},
  "color": {"field": "trace", "type": "nominal", "scale": {"domain": ["grey", "red", "black", "blue"], "range": ["#808080", "#c00000", "#000000", "#1a75ff"]}, "legend": null}
 }},
{"data": {"name": "starsA"}, "mark": {"type": "text", "font": "Liberation Sans", "fontSize": 50, "fontWeight": "bold", "align": "center", "baseline": "alphabetic", "dy": 28},
 "encoding": {"x": {"field": "wn", "type": "quantitative"}, "y": {"field": "refl", "type": "quantitative"}, "text": {"field": "mark"}, "color": {"field": "trace", "type": "nominal"}}},
{"data": {"name": "labelA"}, "mark": {"type": "text", "font": "Liberation Sans", "fontSize": 48, "fontWeight": "bold", "align": "center", "baseline": "alphabetic", "color": "#000"},
 "encoding": {"x": {"field": "wn", "type": "quantitative"}, "y": {"field": "refl", "type": "quantitative"}, "text": {"field": "label"}}}
]
},
{
"width": 780, "height": 742,
"data": {"name": "panelB"},
"layer": [
{"mark": {"type": "line", "strokeWidth": 1.3, "clip": true},
 "encoding": {
  "x": {"field": "wn", "type": "quantitative", "scale": {"domain": [500, 5000], "reverse": true, "nice": false, "zero": false},
   "axis": {"values": [5000,4500,4000,3500,3000,2500,2000,1500,1000,500], "format": "d", "title": "Wavenumber [cm⁻¹]", "grid": false, "labelFont": "Liberation Sans", "labelFontSize": 27, "labelColor": "#000", "labelPadding": 12, "labelFlush": false, "labelOverlap": false, "tickSize": 9, "tickColor": "#808080", "tickWidth": 1.5, "domainColor": "#595959", "domainWidth": 2, "titleFont": "Lato", "titleFontStyle": "italic", "titleFontWeight": "normal", "titleFontSize": 33, "titleColor": "#000", "titleY": 71, "titleBaseline": "middle"}},
  "y": {"field": "refl", "type": "quantitative", "scale": {"domain": [0, 138.7], "nice": false, "zero": false},
   "axis": {"title": "Reflectance", "labels": false, "ticks": false, "domain": false, "grid": false, "titleFont": "Lato", "titleFontStyle": "italic", "titleFontWeight": "normal", "titleFontSize": 34, "titleColor": "#000", "titleX": -29, "titleY": 197, "titleAlign": "center", "titleBaseline": "middle", "titleAngle": -90}},
  "color": {"field": "trace", "type": "nominal", "scale": {"domain": ["grey", "red", "black", "blue"], "range": ["#808080", "#c00000", "#000000", "#1a75ff"]}, "legend": null}
 }},
{"data": {"name": "starsB"}, "mark": {"type": "text", "font": "Liberation Sans", "fontSize": 50, "fontWeight": "bold", "align": "center", "baseline": "alphabetic", "dy": 28},
 "encoding": {"x": {"field": "wn", "type": "quantitative"}, "y": {"field": "refl", "type": "quantitative"}, "text": {"field": "mark"}, "color": {"field": "trace", "type": "nominal"}}},
{"data": {"name": "labelB"}, "mark": {"type": "text", "font": "Liberation Sans", "fontSize": 48, "fontWeight": "bold", "align": "center", "baseline": "alphabetic", "color": "#000"},
 "encoding": {"x": {"field": "wn", "type": "quantitative"}, "y": {"field": "refl", "type": "quantitative"}, "text": {"field": "label"}}}
]
}
]
}
